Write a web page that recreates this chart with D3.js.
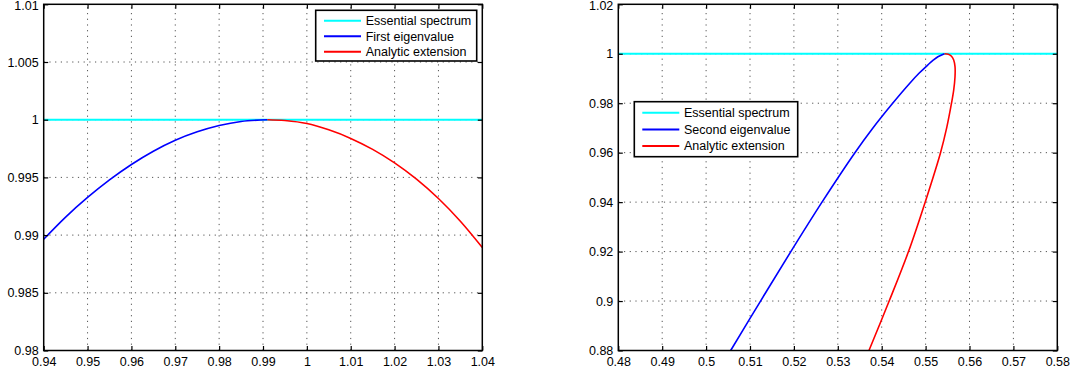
<!DOCTYPE html>
<html>
<head>
<meta charset="utf-8">
<script src="https://cdn.jsdelivr.net/npm/d3@7"></script>
<style>
  html, body { margin: 0; padding: 0; background: #fff; }
  svg { display: block; }
  text { font-family: "Liberation Sans", Arial, Helvetica, sans-serif; }
</style>
</head>
<body>
<svg id="chart" width="1076" height="375"></svg>
<script>
// ---------------- DATA ----------------
// Left panel
const leftXTicks = [0.94, 0.95, 0.96, 0.97, 0.98, 0.99, 1.00, 1.01, 1.02, 1.03, 1.04];
const leftYTicks = [0.98, 0.985, 0.99, 0.995, 1.00, 1.005, 1.01];
const leftEssX = [0.94, 1.04];
const leftEssY = [1.0, 1.0];
const leftFirstX = [0.940, 0.945, 0.950, 0.955, 0.960, 0.965, 0.970, 0.975, 0.980, 0.985, 0.991];
const leftFirstY = [0.98964, 0.99156, 0.99326, 0.99478, 0.99612, 0.99727, 0.99822, 0.99895, 0.99950, 0.99985, 1.00000];
const leftExtX = [0.991, 0.995, 1.000, 1.005, 1.010, 1.015, 1.020, 1.025, 1.030, 1.035, 1.040];
const leftExtY = [1.00000, 0.99993, 0.99967, 0.99912, 0.99838, 0.99743, 0.99626, 0.99485, 0.99317, 0.99120, 0.98892];
const leftLegend = ["Essential spectrum", "First eigenvalue", "Analytic extension"];

// Right panel
const rightXTicks = [0.48, 0.49, 0.50, 0.51, 0.52, 0.53, 0.54, 0.55, 0.56, 0.57, 0.58];
const rightYTicks = [0.88, 0.90, 0.92, 0.94, 0.96, 0.98, 1.00, 1.02];
const rightEssX = [0.48, 0.58];
const rightEssY = [1.0, 1.0];
const rightSecondX = [0.5056, 0.5124, 0.5193, 0.5264, 0.5339, 0.5380, 0.5425, 0.5464, 0.5485, 0.5501, 0.5518, 0.5528, 0.5543];
const rightSecondY = [0.880, 0.900, 0.920, 0.940, 0.960, 0.970, 0.980, 0.9881, 0.9921, 0.9948, 0.9975, 0.9988, 1.000];
const rightExtX = [0.5543, 0.5552, 0.5559, 0.5564, 0.5567, 0.5567, 0.5564, 0.5559, 0.5548, 0.5534, 0.5499, 0.5461, 0.5417, 0.5371];
const rightExtY = [1.000, 0.9998, 0.9990, 0.9975, 0.9948, 0.9907, 0.9853, 0.980, 0.970, 0.960, 0.940, 0.920, 0.900, 0.880];
const rightLegend = ["Essential spectrum", "Second eigenvalue", "Analytic extension"];

const seriesColors = ["#00ffff", "#0000ff", "#ff0000"];

// ---------------- LAYOUT ----------------
const svg = d3.select("#chart");
const FONT = 12.5;

const panels = [
  {
    id: "L", x0: 43.7, x1: 482.3, y0: 4.3, y1: 350.5,
    xDomain: [0.94, 1.04], yDomain: [0.98, 1.01],
    xTicks: leftXTicks, yTicks: leftYTicks,
    series: [[leftEssX, leftEssY], [leftFirstX, leftFirstY], [leftExtX, leftExtY]],
    legend: leftLegend,
    leg: { x: 315.7, y: 10.3, w: 161, h: 50.7, rowY: [20.7, 36.2, 51.7], lx0: 324, lx1: 361, tx: 365.7 }
  },
  {
    id: "R", x0: 618.3, x1: 1057.3, y0: 4.3, y1: 350.5,
    xDomain: [0.48, 0.58], yDomain: [0.88, 1.02],
    xTicks: rightXTicks, yTicks: rightYTicks,
    series: [[rightEssX, rightEssY], [rightSecondX, rightSecondY], [rightExtX, rightExtY]],
    legend: rightLegend,
    leg: { x: 634.3, y: 101.7, w: 163.4, h: 55, rowY: [112.7, 129.4, 146], lx0: 642.3, lx1: 679.3, tx: 684 }
  }
];

const fmt = d3.format("~g");

panels.forEach(p => {
  const x = d3.scaleLinear().domain(p.xDomain).range([p.x0, p.x1]);
  const y = d3.scaleLinear().domain(p.yDomain).range([p.y1, p.y0]);
  const g = svg.append("g");

  // clip
  const clipId = "clip" + p.id;
  svg.append("defs").append("clipPath").attr("id", clipId)
    .append("rect").attr("x", p.x0).attr("y", p.y0)
    .attr("width", p.x1 - p.x0).attr("height", p.y1 - p.y0);

  // grid
  const grid = g.append("g").attr("stroke", "#555").attr("stroke-width", 1)
    .attr("stroke-dasharray", "1.2 4.5").attr("fill", "none");
  p.xTicks.slice(1, -1).forEach(t => {
    grid.append("line").attr("x1", x(t)).attr("x2", x(t)).attr("y1", p.y1).attr("y2", p.y0);
  });
  p.yTicks.slice(1, -1).forEach(t => {
    grid.append("line").attr("x1", p.x0).attr("x2", p.x1).attr("y1", y(t)).attr("y2", y(t));
  });

  // series
  const line = d3.line().x(d => x(d[0])).y(d => y(d[1])).curve(d3.curveCatmullRom.alpha(0.5));
  const plot = g.append("g").attr("clip-path", `url(#${clipId})`);
  p.series.forEach((s, i) => {
    const pts = s[0].map((v, k) => [v, s[1][k]]);
    plot.append("path").datum(pts).attr("d", line)
      .attr("fill", "none").attr("stroke", seriesColors[i])
      .attr("stroke-width", i === 0 ? 2 : 1.6)
      .attr("stroke-linejoin", "round").attr("stroke-linecap", "butt");
  });

  // axes (ticks inside)
  const axB = d3.axisBottom(x).tickValues(p.xTicks).tickSizeInner(-4.5).tickSizeOuter(0).tickPadding(6.5).tickFormat(fmt);
  const axT = d3.axisTop(x).tickValues(p.xTicks).tickSizeInner(-4.5).tickSizeOuter(0).tickFormat("");
  const axL = d3.axisLeft(y).tickValues(p.yTicks).tickSizeInner(-4.5).tickSizeOuter(0).tickPadding(5).tickFormat(fmt);
  const axR = d3.axisRight(y).tickValues(p.yTicks).tickSizeInner(-4.5).tickSizeOuter(0).tickFormat("");

  const styleAxis = sel => {
    sel.select(".domain").remove();
    sel.selectAll(".tick line").attr("stroke", "#000").attr("stroke-width", 1.2);
    sel.selectAll(".tick text").attr("fill", "#000").style("font-size", FONT + "px")
      .style("font-family", '"Liberation Sans", Arial, sans-serif');
  };
  g.append("g").attr("transform", `translate(0,${p.y1})`).call(axB).call(styleAxis);
  g.append("g").attr("transform", `translate(0,${p.y0})`).call(axT).call(styleAxis);
  const left = g.append("g").attr("transform", `translate(${p.x0},0)`).call(axL).call(styleAxis);
  // keep the topmost label fully inside the picture
  left.selectAll(".tick text").filter(d => d === p.yTicks[p.yTicks.length - 1]).attr("dy", "0.42em");
  g.append("g").attr("transform", `translate(${p.x1},0)`).call(axR).call(styleAxis);

  // box
  g.append("rect").attr("x", p.x0).attr("y", p.y0)
    .attr("width", p.x1 - p.x0).attr("height", p.y1 - p.y0)
    .attr("fill", "none").attr("stroke", "#000").attr("stroke-width", 1.5);

  // legend
  const L = p.leg;
  const lg = g.append("g");
  lg.append("rect").attr("x", L.x).attr("y", L.y).attr("width", L.w).attr("height", L.h)
    .attr("fill", "#fff").attr("stroke", "#000").attr("stroke-width", 1.6);
  p.legend.forEach((name, i) => {
    lg.append("line").attr("x1", L.lx0).attr("x2", L.lx1)
      .attr("y1", L.rowY[i]).attr("y2", L.rowY[i])
      .attr("stroke", seriesColors[i]).attr("stroke-width", 2);
    lg.append("text").attr("x", L.tx).attr("y", L.rowY[i]).attr("dy", "0.35em")
      .style("font-size", FONT + "px").attr("fill", "#000").text(name);
  });
});
</script>
</body>
</html>
